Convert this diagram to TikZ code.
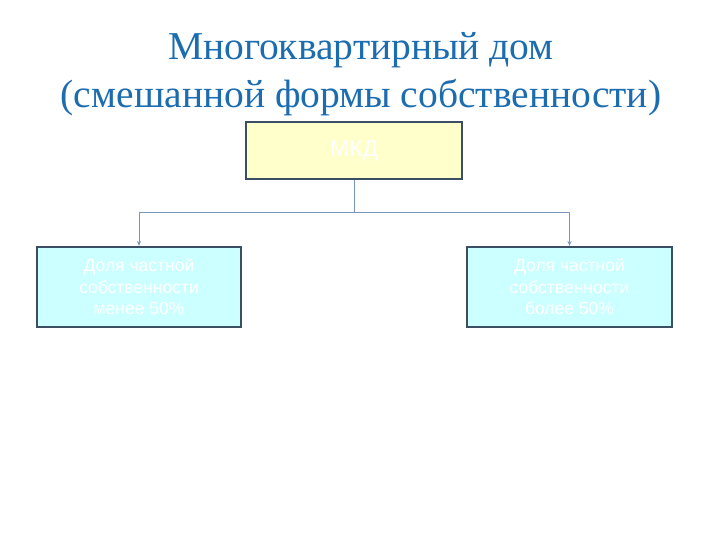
\documentclass[tikz,border=0pt]{standalone}
\usepackage{fontspec}
\setmainfont{Liberation Serif}
\newfontfamily\boxfont{Liberation Sans}
\usetikzlibrary{arrows.meta}
\definecolor{titleblue}{RGB}{28,108,176}
\definecolor{boxedge}{RGB}{60,78,98}
\definecolor{linkblue}{RGB}{120,150,190}
\definecolor{mkdyellow}{RGB}{255,255,204}
\definecolor{sharecyan}{RGB}{204,255,255}
\tikzset{
  box/.style={draw=boxedge, line width=2pt, text=white, align=center,
    font=\boxfont\fontsize{17.5}{21.5}\selectfont},
  link/.style={draw=linkblue, line width=1pt},
}

\begin{document}
\begin{tikzpicture}[x=1pt,y=-1pt]
    \useasboundingbox (0,0) rectangle (720,540);
    \coordinate (T) at (361,74);
    \coordinate (M) at (354,150.5);
    \coordinate (L) at (139,287);
    \coordinate (R) at (569.5,287);
    \coordinate (fork) at (354,213);

    \node[box, fill=mkdyellow, minimum width=216pt, minimum height=57pt,
      font=\boxfont\fontsize{23}{24}\selectfont] (mkd) at (M) {МКД};
    \node[box, fill=sharecyan, minimum width=204pt, minimum height=80pt] (less) at (L)
      {Доля частной\\собственности\\менее 50\%};
    \node[box, fill=sharecyan, minimum width=205pt, minimum height=80pt] (more) at (R)
      {Доля частной\\собственности\\более 50\%};

    \draw[link] (mkd.south) -- (fork);
    \draw[link, -{Stealth[length=5pt,width=4pt]}] (fork) -| (less.north);
    \draw[link, -{Stealth[length=5pt,width=4pt]}] (fork) -| (more.north);

%labels
    \node[text=titleblue, align=center, font=\fontsize{39.5}{48}\selectfont] (title) at (T)
      {Многоквартирный дом\\(смешанной формы собственности)};

\end{tikzpicture}
\end{document}
